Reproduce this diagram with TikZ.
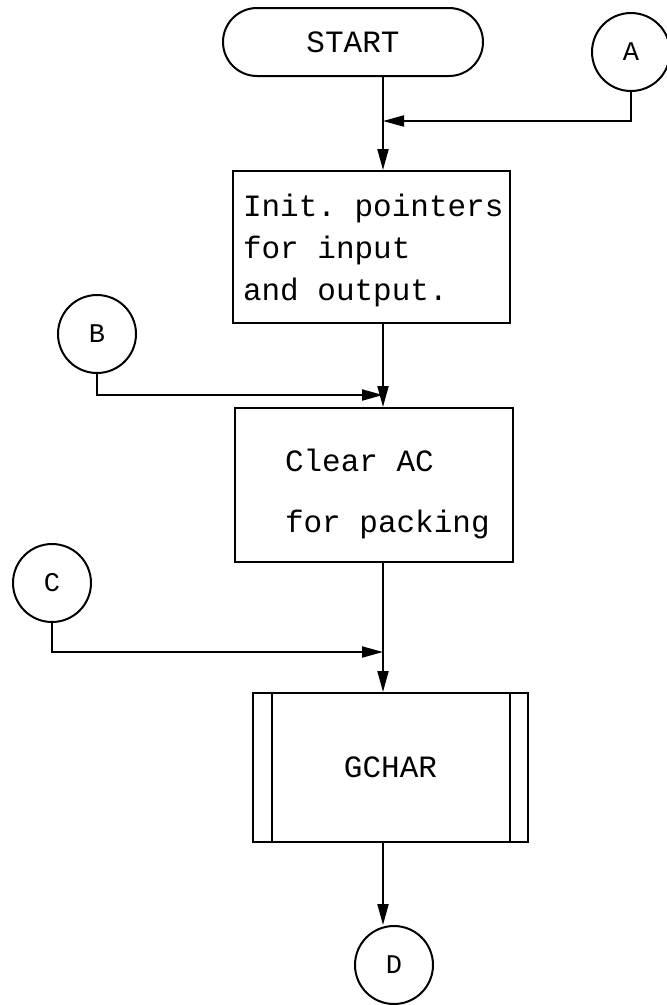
\documentclass[tikz,border=0pt]{standalone}
\usepackage{fontspec}
\setmonofont{Liberation Mono}
\usetikzlibrary{arrows.meta}

\begin{document}
\begin{tikzpicture}[
        x=1pt, y=-1pt,
        txt/.style={font=\ttfamily\fontsize{31}{42}\selectfont\frenchspacing},
        box/.style={rectangle, draw, line width=2pt, inner sep=0pt, txt},
        term/.style={box, rounded corners=34pt, minimum width=260pt, minimum height=68pt},
        conn/.style={circle, draw, line width=2pt, minimum size=78pt, inner sep=0pt, font=\ttfamily\fontsize{27}{32}\selectfont},
        arrow/.style={->, >={Triangle[length=21pt,width=11pt]}, line width=2pt}
    ]
        \useasboundingbox (0,0) rectangle (667,1005);

        % Start and connectors
        \node[term] (start) at (353,42) {START};
        \node[conn] (A) at (631,52) {A};
        \node[conn] (B) at (97,334) {B};
        \node[conn] (C) at (52,583) {C};
        \node[conn] (D) at (394,965) {D};

        % Init pointers
        \node[box, minimum width=277pt, minimum height=152pt, inner xsep=2pt, text width=273pt, text height=30pt, align=left] (init) at (371.5,247) {\spaceskip=0pt\leftskip=8pt Init. pointers\\for input\\and output.\par};

        % Clear AC
        \node[box, minimum width=278pt, minimum height=154pt, inner xsep=20pt, text width=238pt, text height=40pt, align=left, font=\ttfamily\fontsize{31}{61}\selectfont] (clear) at (374,485) {\spaceskip=0pt\leftskip=30pt Clear AC\\for packing\par};

        % GCHAR subroutine
        \node[box, minimum width=275pt, minimum height=149pt] (gchar) at (390.5,767.5) {GCHAR};
        \draw[line width=2pt] ([xshift=20pt]gchar.north west) -- ([xshift=20pt]gchar.south west);
        \draw[line width=2pt] ([xshift=-19pt]gchar.north east) -- ([xshift=-19pt]gchar.south east);

        % Junctions
        \coordinate (trunk) at (383,0);
        \coordinate (jA) at (383,121);
        \coordinate (jB) at (383,395);
        \coordinate (jC) at (383,652);

        % Arrows
        \draw[arrow] (start.south -| trunk) -- (init.north -| trunk);
        \draw[arrow] (A.south) |- (jA);
        \draw[arrow] (init.south -| trunk) -- (clear.north -| trunk);
        \draw[arrow] (B.south) |- (jB);
        \draw[arrow] (clear.south -| trunk) -- (gchar.north -| trunk);
        \draw[arrow] (C.south) |- (jC);
        \draw[arrow] (gchar.south -| trunk) -- (D.north -| trunk);
    \end{tikzpicture}
\end{document}
